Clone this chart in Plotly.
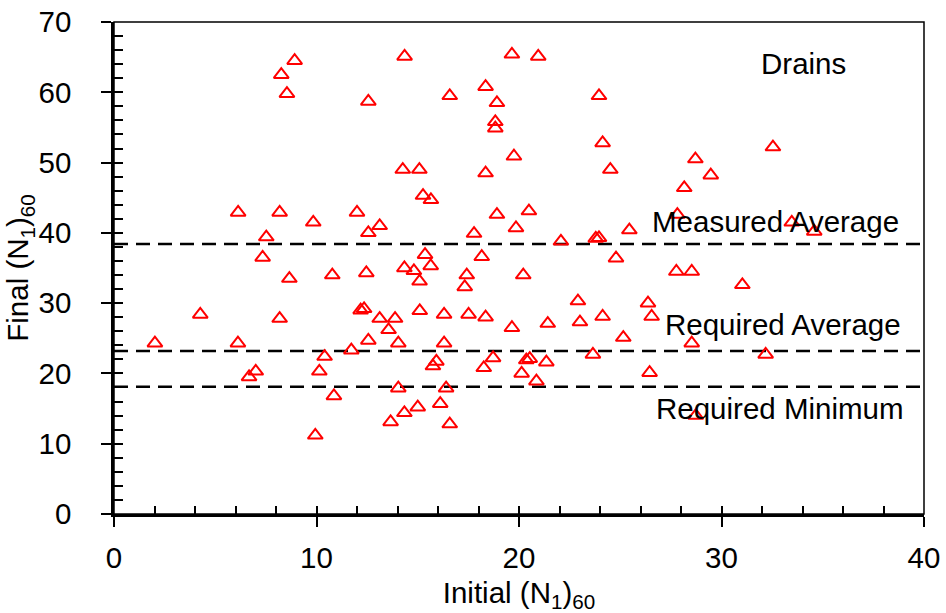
import plotly.graph_objects as go

# Initial vs. final normalized SPT blow counts at drain locations
initial_n160 = [
    6.13, 8.92, 8.26, 8.54, 12.56, 7.52, 8.18, 9.84, 12.0, 12.56, 13.12, 7.34,
    14.35, 19.65, 20.95, 16.58, 18.35, 18.91, 18.83, 18.83, 23.95, 24.13, 19.75,
    14.26, 15.08, 18.35, 24.51, 15.26, 15.65, 18.91, 20.49, 17.78, 19.85, 22.07,
    23.79, 23.95, 25.45, 15.36, 18.16, 24.79, 32.54, 28.71, 29.47, 28.16, 27.82,
    33.47, 34.58, 27.77, 28.53, 8.66, 10.78, 12.46, 4.26, 8.18, 12.18, 12.35,
    13.12, 13.56, 13.88, 2.02, 6.12, 12.56, 10.4, 11.72, 10.14, 6.67, 7.0, 10.86,
    9.94, 13.66, 14.04, 14.04, 14.34, 14.81, 15.64, 15.09, 17.42, 17.32, 20.21,
    15.1, 16.3, 17.51, 18.35, 19.65, 21.42, 22.91, 23.01, 24.13, 25.15, 26.37,
    26.55, 16.3, 15.75, 15.92, 18.26, 18.72, 20.36, 20.53, 21.35, 20.13, 20.86,
    23.65, 26.45, 16.4, 16.11, 15.0, 14.34, 16.58, 31.03, 28.53, 32.18, 28.73,
]
final_n160 = [
    42.9, 64.5, 62.5, 59.8, 58.7, 39.4, 42.9, 41.5, 42.9, 40.0, 41.0, 36.5,
    65.1, 65.4, 65.1, 59.5, 60.8, 58.5, 55.8, 54.9, 59.5, 52.8, 50.9,
    49.0, 49.0, 48.5, 49.0, 45.3, 44.7, 42.6, 43.1, 39.9, 40.7, 38.8,
    39.2, 39.3, 40.4, 36.9, 36.6, 36.4, 52.2, 50.5, 48.2, 46.4, 42.6,
    41.5, 40.2, 34.5, 34.5, 33.5, 34.0, 34.3, 28.4, 27.8, 29.0, 29.2,
    27.8, 26.2, 27.8, 24.3, 24.3, 24.7, 22.4, 23.3, 20.3, 19.5, 20.3, 16.8,
    11.2, 13.1, 17.9, 24.3, 35.0, 34.6, 35.3, 33.1, 34.0, 32.3, 34.0,
    28.9, 28.4, 28.4, 28.0, 26.5, 27.1, 30.3, 27.3, 28.1, 25.1, 30.0,
    28.1, 24.3, 21.05, 21.7, 20.8, 22.2, 21.9, 22.1, 21.6, 20.0, 18.9,
    22.7, 20.1, 17.9, 15.7, 15.2, 14.4, 12.8, 32.6, 24.3, 22.7, 14.0,
]

# Reference levels drawn as dashed lines
ref_levels = [38.4, 23.2, 18.1]
ref_labels = ["Measured Average", "Required Average", "Required Minimum"]
panel_label = "Drains"

x_range = [0, 40]
y_range = [0, 70]

FONT = "Liberation Sans, Arial, sans-serif"
fs = 29.5

fig = go.Figure()

for lv in ref_levels:
    fig.add_trace(go.Scatter(
        x=x_range, y=[lv, lv], mode="lines",
        line=dict(color="black", width=2.5, dash="14px,8px"),
        hoverinfo="skip", showlegend=False,
    ))

fig.add_trace(go.Scatter(
    x=initial_n160, y=final_n160, mode="markers",
    marker=dict(symbol="triangle-up-open", size=13, color="#ff0000",
                line=dict(color="#ff0000", width=2)),
    xaxis="x2", yaxis="y2", showlegend=False,
))

tick_font = dict(family=FONT, size=fs, color="black")

fig.update_layout(
    width=946, height=613,
    margin=dict(l=114, r=22, t=22, b=99, autoexpand=False),
    paper_bgcolor="white", plot_bgcolor="white",
    font=dict(family=FONT, color="black", size=fs),
    xaxis=dict(
        range=x_range, dtick=10, tick0=0,
        showgrid=False, zeroline=False,
        showline=True, linecolor="black", linewidth=2.5,
        ticks="outside", ticklen=10, tickwidth=2, tickcolor="black",
        tickfont=tick_font, ticklabelstandoff=6,
        title=dict(text="Initial (N<sub>1</sub>)<sub>60</sub>",
                   font=dict(family=FONT, size=fs), standoff=16),
    ),
    yaxis=dict(
        range=y_range, dtick=10, tick0=0,
        showgrid=False, zeroline=False,
        showline=True, linecolor="black", linewidth=2.5,
        ticks="outside", ticklen=10, tickwidth=2, tickcolor="black",
        tickfont=tick_font, ticklabelstandoff=24,
        title=dict(text="Final (N<sub>1</sub>)<sub>60</sub>",
                   font=dict(family=FONT, size=fs), standoff=0),
    ),
    xaxis2=dict(
        range=x_range, overlaying="x", anchor="y2", side="bottom",
        dtick=2, tick0=0, ticks="inside", ticklen=8, tickwidth=2,
        tickcolor="black", showticklabels=False,
        showgrid=False, zeroline=False, showline=False,
    ),
    yaxis2=dict(
        range=y_range, overlaying="y", anchor="x2", side="left",
        dtick=2, tick0=0, ticks="inside", ticklen=9, tickwidth=2,
        tickcolor="black", showticklabels=False,
        showgrid=False, zeroline=False, showline=False,
    ),
    shapes=[dict(type="rect", xref="paper", yref="paper",
                 x0=0, x1=1, y0=0, y1=1,
                 line=dict(color="black", width=1.5), layer="above")],
)

# Text labels for the panel and reference lines
label_pos = [(32.67, 41.6), (33.04, 27.0), (32.9, 15.0)]
annotations = [dict(x=34.05, y=64.1, text=panel_label)]
for (ax, ay), txt in zip(label_pos, ref_labels):
    annotations.append(dict(x=ax, y=ay, text=txt))
for a in annotations:
    a.update(xref="x", yref="y", showarrow=False,
             xanchor="center", yanchor="middle",
             font=dict(family=FONT, size=fs, color="black"))
fig.update_layout(annotations=annotations)

fig.write_html("out.html")
